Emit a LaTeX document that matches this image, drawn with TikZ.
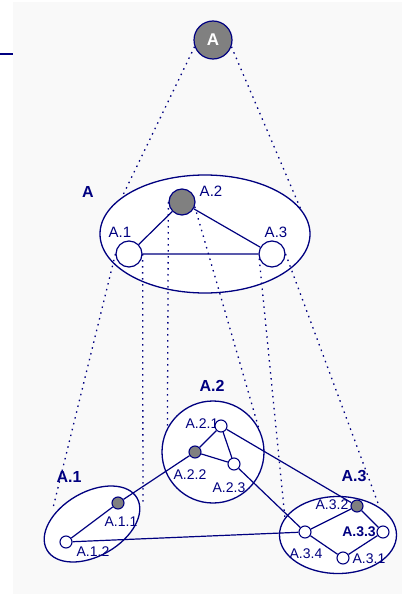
\documentclass[tikz,border=0pt]{standalone}
\usepackage{fontspec}
\setmainfont{Liberation Sans}
\usetikzlibrary{shapes.geometric}
\definecolor{navy}{HTML}{000080}
\definecolor{paper}{HTML}{F9F9F9}
\definecolor{knot}{HTML}{808080}
\begin{document}
\begin{tikzpicture}[x=1pt,y=-1pt,
    vtx/.style={circle,draw=navy,line width=1.2pt,fill=white,inner sep=0pt,minimum size=26pt},
    leaf/.style={circle,draw=navy,line width=1.1pt,fill=white,inner sep=0pt,minimum size=12pt},
    hub/.style={fill=knot},
    hull/.style={draw=navy,line width=1.3pt,fill=white,inner sep=0pt},
    lab/.style={text=navy,inner sep=0pt,font=\fontsize{14}{14}\selectfont},
    head/.style={text=navy,inner sep=0pt,font=\fontsize{16}{16}\selectfont\bfseries},
    edge/.style={draw=navy,line width=1.2pt},
    proj/.style={draw=navy,line width=1.3pt,dash pattern=on 1.5pt off 4.5pt}]
    \useasboundingbox (0,0) rectangle (402,594);
    \fill[paper] (13,2) rectangle (402,594);
    \draw[navy,line width=1.4pt] (0,54) -- (13,54);

    % Clusters %
    \node[hull,ellipse,minimum width=210pt,minimum height=118pt] (bigA) at (205,234) {};
    \node[hull,ellipse,minimum width=104pt,minimum height=64pt,rotate=30] (c1) at (92,524) {};
    \node[hull,circle,minimum size=102pt] (c2) at (213,452) {};
    \node[hull,ellipse,minimum width=117pt,minimum height=77pt] (c3) at (338,535) {};

    \node[head] (bigA-lab) at (88,192) {A};
    \node[head] (c1-lab) at (69,477) {A.1};
    \node[head] (c2-lab) at (212,386) {A.2};
    \node[head] (c3-lab) at (354,476) {A.3};

    % Labels %
    \node[lab,font=\fontsize{15}{15}\selectfont] (a1-lab) at (120,232) {A.1};
    \node[lab,font=\fontsize{15}{15}\selectfont] (a2-lab) at (211,191) {A.2};
    \node[lab,font=\fontsize{15}{15}\selectfont] (a3-lab) at (276,232) {A.3};
    \node[lab] (a11-lab) at (121,522) {A.1.1};
    \node[lab] (a12-lab) at (93,552) {A.1.2};
    \node[lab] (a21-lab) at (202,424) {A.2.1};
    \node[lab] (a22-lab) at (190,475) {A.2.2};
    \node[lab] (a23-lab) at (229,488) {A.2.3};
    \node[lab] (a31-lab) at (369,559) {A.3.1};
    \node[lab] (a32-lab) at (332,505) {A.3.2};
    \node[lab,font=\fontsize{14}{14}\selectfont\bfseries] (a33-lab) at (359,532) {A.3.3};
    \node[lab] (a34-lab) at (306,554) {A.3.4};

    % Vertices %
    \node[vtx,hub,minimum size=38pt,text=white,font=\fontsize{17}{17}\selectfont\bfseries] (top) at (213,40) {A};
    \node[vtx] (a1) at (129,254) {};
    \node[vtx,hub] (a2) at (182,202) {};
    \node[vtx] (a3) at (272,254) {};
    \node[leaf,hub] (a11) at (118,503) {};
    \node[leaf] (a12) at (66,542) {};
    \node[leaf] (a21) at (221,426) {};
    \node[leaf,hub] (a22) at (195,452) {};
    \node[leaf] (a23) at (234,464) {};
    \node[leaf] (a31) at (343,558) {};
    \node[leaf,hub] (a32) at (357,506) {};
    \node[leaf] (a33) at (383,532) {};
    \node[leaf] (a34) at (305,532) {};

    % Edges %
    \draw[edge] (a1) -- (a2) -- (a3) -- (a1);
    \draw[edge] (a11) -- (a12);
    \draw[edge] (a21) -- (a22) -- (a23) -- (a21);
    \draw[edge] (a34) -- (a32) -- (a33) -- (a31) -- (a34);
    \draw[edge] (a22) -- (a11);
    \draw[edge] (a21) -- (a32);
    \draw[edge] (a23) -- (a34);
    \draw[edge] (a12) -- (a34);

    % Projections %
    \coordinate (c1w) at (53,508);
    \coordinate (c1e) at (143,506);
    \draw[proj] (top.200) -- (bigA.156);
    \draw[proj] (top.-20) -- (bigA.15);
    \draw[proj] (a1.west) -- (c1w);
    \draw[proj] (a1.east) -- (c1e);
    \draw[proj] (a2.west) -- (c2.152);
    \draw[proj] (a2.-20) -- (c2.28);
    \draw[proj] (a3.200) -- (c3.162);
    \draw[proj] (a3.east) -- (c3.34);
\end{tikzpicture}
\end{document}
